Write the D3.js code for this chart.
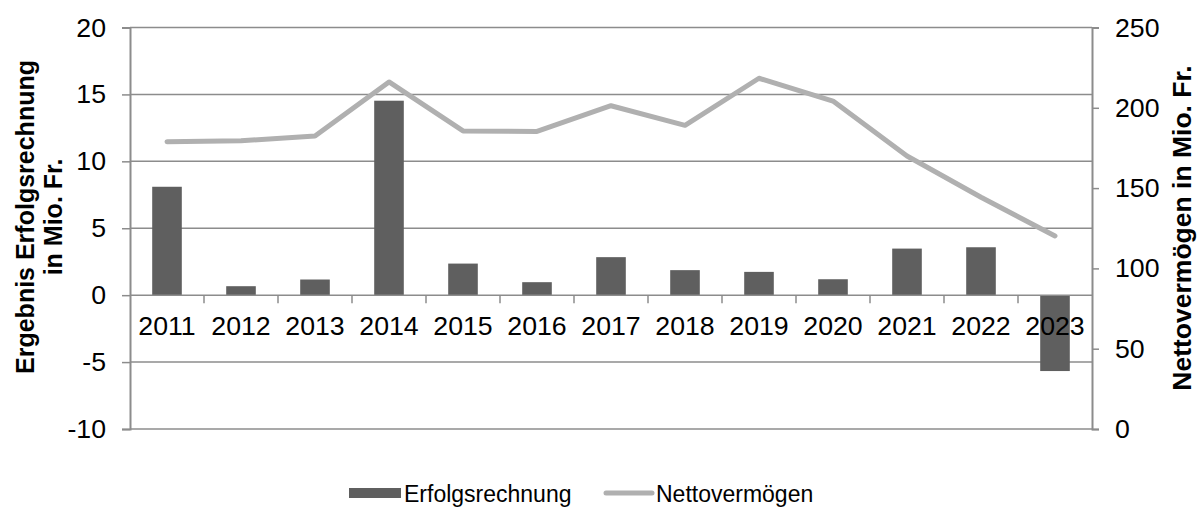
<!DOCTYPE html>
<html lang="de">
<head>
    <meta charset="UTF-8">
    <title>Erfolgsrechnung und Nettovermögen</title>
    <script src="https://d3js.org/d3.v7.min.js"></script>
    <style>
        body { margin: 0; background: #fff; }
        text { font-family: 'Liberation Sans', Arial, sans-serif; fill: #000; }
        .tick-label { font-size: 26.7px; }
        .axis-title { font-size: 25px; font-weight: bold; }
        .axis-title.right { font-size: 26.5px; }
        .legend-label { font-size: 23px; }
    </style>
</head>
<body>
<script>

    const width  = 1198;
    const height = 509;

    // data
    const years = ['2011', '2012', '2013', '2014', '2015', '2016', '2017',
                   '2018', '2019', '2020', '2021', '2022', '2023'];
    const erfolgsrechnung = [8.1, 0.67, 1.17, 14.53, 2.36, 0.97, 2.84,
                             1.87, 1.74, 1.19, 3.48, 3.58, -5.67];
    const nettovermoegen = [178.9, 179.5, 182.4, 216.1, 185.6, 185.3, 201.3,
                            189.1, 218.4, 204.2, 170.0, 144.3, 120.2];
    const leftTicks  = [-10, -5, 0, 5, 10, 15, 20];
    const rightTicks = [0, 50, 100, 150, 200, 250];

    const plot = {left: 130, right: 1092, top: 27.5, bottom: 429};
    const barColor  = '#5f5f5f';
    const lineColor = '#b0b0b0';
    const gridColor = '#8c8c8c';

    const band = d3.scaleBand().domain(years).range([plot.left, plot.right]);
    const barWidth = band.bandwidth() * 0.4;

    const yLeft = d3.scaleLinear().domain([-10, 20]).range([plot.bottom, plot.top]);
    const yRight = d3.scaleLinear().domain([0, 250]).range([plot.bottom, plot.top]);

    const svg = d3.select("body")
            .append("svg")
            .attr("width", width)
            .attr("height", height);

    // gridlines
    svg.append("g")
            .selectAll("line")
            .data(leftTicks.filter(d => d !== 0 && d !== -10))
            .enter()
            .append("line")
            .attr("x1", plot.left)
            .attr("x2", plot.right)
            .attr("y1", d => yLeft(d))
            .attr("y2", d => yLeft(d))
            .attr("stroke", gridColor)
            .attr("stroke-width", 1.5);

    // bottom border
    svg.append("line")
            .attr("x1", plot.left).attr("x2", plot.right)
            .attr("y1", plot.bottom).attr("y2", plot.bottom)
            .attr("stroke", gridColor).attr("stroke-width", 1.5);

    // bars
    svg.append("g")
            .selectAll("rect")
            .data(years)
            .enter()
            .append("rect")
            .attr("x", d => band(d) + (band.bandwidth() - barWidth) / 2)
            .attr("width", barWidth)
            .attr("y", (d, i) => Math.min(yLeft(erfolgsrechnung[i]), yLeft(0)))
            .attr("height", (d, i) => Math.abs(yLeft(erfolgsrechnung[i]) - yLeft(0)))
            .attr("fill", barColor);

    // left axis
    const leftAxis = d3.axisLeft(yLeft)
            .tickValues(leftTicks)
            .tickSize(8)
            .tickPadding(16)
            .tickFormat(d3.format("d"));
    const gl = svg.append("g")
            .attr("transform", "translate(" + plot.left + ",0)")
            .call(leftAxis);
    gl.select(".domain").attr("stroke", gridColor).attr("stroke-width", 2);
    gl.selectAll(".tick line").attr("stroke", gridColor).attr("stroke-width", 1.5);
    gl.selectAll(".tick text").attr("class", "tick-label").attr("font-size", null)
            .attr("font-family", null).attr("fill", "#000")
            .text(d => d < 0 ? "-" + Math.abs(d) : d);

    // right axis
    const rightAxis = d3.axisRight(yRight)
            .tickValues(rightTicks)
            .tickSize(7)
            .tickPadding(16);
    const gr = svg.append("g")
            .attr("transform", "translate(" + plot.right + ",0)")
            .call(rightAxis);
    gr.select(".domain").attr("stroke", gridColor).attr("stroke-width", 2);
    gr.selectAll(".tick line").attr("stroke", gridColor).attr("stroke-width", 1.5);
    gr.selectAll(".tick text").attr("class", "tick-label").attr("font-size", null)
            .attr("font-family", null).attr("fill", "#000");

    // category axis on zero line
    const zeroY = yLeft(0);
    svg.append("line")
            .attr("x1", plot.left).attr("x2", plot.right)
            .attr("y1", zeroY).attr("y2", zeroY)
            .attr("stroke", gridColor).attr("stroke-width", 1.5);
    svg.append("g")
            .selectAll("line")
            .data(years.slice(1))
            .enter()
            .append("line")
            .attr("x1", d => band(d)).attr("x2", d => band(d))
            .attr("y1", zeroY).attr("y2", zeroY + 8)
            .attr("stroke", gridColor).attr("stroke-width", 1.5);
    svg.append("g")
            .selectAll("text")
            .data(years)
            .enter()
            .append("text")
            .attr("class", "tick-label")
            .attr("x", d => band(d) + band.bandwidth() / 2)
            .attr("y", zeroY + 40)
            .attr("text-anchor", "middle")
            .text(d => d);

    // line
    const line = d3.line()
            .x((d, i) => band(years[i]) + band.bandwidth() / 2)
            .y(d => yRight(d));
    svg.append("path")
            .datum(nettovermoegen)
            .attr("d", line)
            .attr("fill", "none")
            .attr("stroke", lineColor)
            .attr("stroke-width", 5)
            .attr("stroke-linejoin", "round")
            .attr("stroke-linecap", "round");

    // axis titles
    svg.append("text")
            .attr("class", "axis-title")
            .attr("transform", "translate(34,217) rotate(-90)")
            .attr("text-anchor", "middle")
            .text("Ergebnis Erfolgsrechnung");
    svg.append("text")
            .attr("class", "axis-title")
            .attr("transform", "translate(62,217) rotate(-90)")
            .attr("text-anchor", "middle")
            .text("in Mio. Fr.");
    svg.append("text")
            .attr("class", "axis-title right")
            .attr("transform", "translate(1191,228) rotate(-90)")
            .attr("text-anchor", "middle")
            .text("Nettovermögen in Mio. Fr.");

    // legend
    const lg = svg.append("g");
    lg.append("rect")
            .attr("x", 349).attr("y", 488)
            .attr("width", 52).attr("height", 10)
            .attr("fill", barColor);
    lg.append("text")
            .attr("class", "legend-label")
            .attr("x", 404).attr("y", 502)
            .text("Erfolgsrechnung");
    lg.append("line")
            .attr("x1", 606).attr("x2", 652)
            .attr("y1", 493).attr("y2", 493)
            .attr("stroke", lineColor).attr("stroke-width", 5)
            .attr("stroke-linecap", "round");
    lg.append("text")
            .attr("class", "legend-label")
            .attr("x", 656).attr("y", 502)
            .text("Nettovermögen");

</script>
</body>
</html>
